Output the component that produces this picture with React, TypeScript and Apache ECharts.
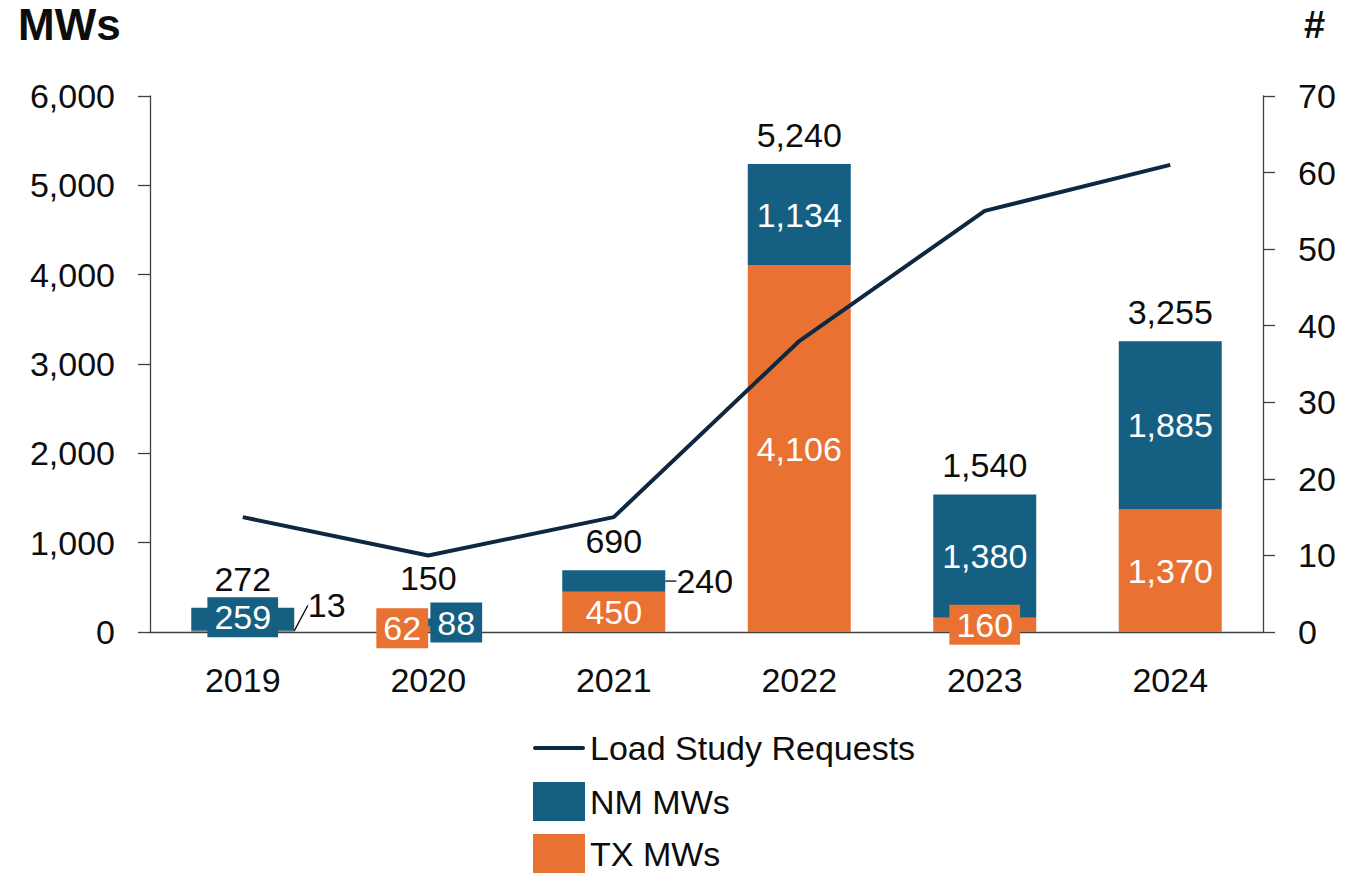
import React, { useEffect, useRef } from "react";
import * as echarts from "echarts";

const years = ["2019", "2020", "2021", "2022", "2023", "2024"];
const txMWs = [13, 62, 450, 4106, 160, 1370];
const nmMWs = [259, 88, 240, 1134, 1380, 1885];
const totalMWs = [272, 150, 690, 5240, 1540, 3255];
const loadStudyRequests = [15, 10, 15, 38, 55, 61];

const BLUE = "#156082";
const ORANGE = "#E97132";
const NAVY = "#0E2841";
const TEXT = "#0d0d0d";
const FONT = "'Liberation Sans', Arial, sans-serif";
const FS = 34;

const fmt = (v: number) => v.toLocaleString("en-US");

export default function App() {
  const ref = useRef<HTMLDivElement>(null);
  useEffect(() => {
    if (!ref.current) return;
    const chart = echarts.init(ref.current, null, { renderer: "svg" });

    const boxLabel = (bg: string) => ({
      show: true,
      position: "inside",
      color: "#ffffff",
      backgroundColor: bg,
      padding: [3, 7, 1, 7],
      lineHeight: 36,
    });
    const plainLine = {
      show: true,
      lineStyle: { color: TEXT, width: 1.3 },
    };

    const txData = txMWs.map((v, i) => {
      if (i === 0)
        return {
          value: v,
          label: { show: true, position: "inside", color: TEXT },
          labelLine: plainLine,
        };
      if (i === 1 || i === 4) return { value: v, label: boxLabel(ORANGE) };
      return { value: v };
    });
    const nmData = nmMWs.map((v, i) => {
      if (i === 0 || i === 1) return { value: v, label: boxLabel(BLUE) };
      if (i === 2)
        return {
          value: v,
          label: { show: true, position: "inside", color: TEXT },
          labelLine: plainLine,
        };
      return { value: v };
    });

    // label series indices: 3 = TX labels, 4 = NM labels, 2 = totals
    const moves: Record<string, { dx: number; dy: number }> = {
      "3-0": { dx: 84, dy: -26 },
      "3-1": { dx: -26, dy: -1 },
      "4-1": { dx: 28, dy: 0 },
      "4-2": { dx: 91, dy: 0 },
      "4-0": { dx: 0, dy: -2 },
      "2-1": { dx: 0, dy: -12 },
    };
    const layoutFn = (p: any) => moves[`${p.seriesIndex}-${p.dataIndex}`] || {};

    const legendText = { fontSize: FS, color: TEXT, fontFamily: FONT, lineHeight: 36 };
    const legendBase = {
      orient: "vertical",
      left: 528,
      itemWidth: 52,
      itemHeight: 39,
      textStyle: legendText,
    };

    const hiddenBar = {
      type: "bar",
      barWidth: 103,
      silent: true,
      itemStyle: { color: "rgba(0,0,0,0)" },
    };

    chart.setOption({
      animation: false,
      textStyle: { fontFamily: FONT, color: TEXT },
      grid: { left: 150, right: 97, top: 96, bottom: 243, containLabel: false },
      graphic: [
        {
          type: "text",
          left: 18,
          top: 2,
          style: { text: "MWs", fontSize: 44, fontWeight: "bold", fill: TEXT, fontFamily: FONT },
        },
        {
          type: "text",
          left: 1304,
          top: 6,
          style: { text: "#", fontSize: 38, fontWeight: "bold", fill: TEXT, fontFamily: FONT },
        },
      ],
      legend: [
        {
          ...legendBase,
          top: 725,
          data: [
            { name: "Load Study Requests", icon: "path://M2,0 L50,0 A2,2 0 0 1 50,4 L2,4 A2,2 0 0 1 2,0 Z" },
          ],
        },
        { ...legendBase, top: 777, data: [{ name: "NM MWs", icon: "rect" }] },
        { ...legendBase, top: 829, data: [{ name: "TX MWs", icon: "rect" }] },
      ],
      xAxis: {
        type: "category",
        data: years,
        axisTick: { show: false },
        axisLine: { lineStyle: { color: "#404040", width: 1.3 } },
        axisLabel: { fontSize: FS, color: TEXT, margin: 31 },
      },
      yAxis: [
        {
          type: "value",
          min: 0,
          max: 6000,
          interval: 1000,
          splitLine: { show: false },
          axisLine: { show: true, lineStyle: { color: "#404040", width: 1.3 } },
          axisTick: { show: true, length: 12, lineStyle: { color: "#404040", width: 1.3 } },
          axisLabel: { fontSize: FS, color: TEXT, margin: 35, formatter: (v: number) => fmt(v) },
        },
        {
          type: "value",
          min: 0,
          max: 70,
          interval: 10,
          splitLine: { show: false },
          axisLine: { show: true, lineStyle: { color: "#404040", width: 1.3 } },
          axisTick: { show: true, length: 12, lineStyle: { color: "#404040", width: 1.3 } },
          axisLabel: { fontSize: FS, color: TEXT, margin: 35 },
        },
      ],
      series: [
        {
          name: "TX MWs",
          type: "bar",
          stack: "mw",
          barWidth: 103,
          itemStyle: { color: ORANGE },
          data: txMWs,
          z: 2,
        },
        {
          name: "NM MWs",
          type: "bar",
          stack: "mw",
          barWidth: 103,
          itemStyle: { color: BLUE },
          data: nmMWs,
          z: 2,
        },
        {
          ...hiddenBar,
          name: "Total",
          barGap: "-100%",
          label: {
            show: true,
            position: "top",
            distance: 12,
            color: TEXT,
            fontSize: FS,
            formatter: (p: any) => fmt(p.value),
          },
          labelLayout: layoutFn,
          data: totalMWs,
          z: 6,
        },
        {
          ...hiddenBar,
          name: "TX label",
          stack: "lbl",
          label: {
            show: true,
            position: "inside",
            color: "#ffffff",
            fontSize: FS,
            formatter: (p: any) => fmt(p.value),
          },
          labelLayout: layoutFn,
          data: txData,
          z: 7,
        },
        {
          ...hiddenBar,
          name: "NM label",
          stack: "lbl",
          label: {
            show: true,
            position: "inside",
            color: "#ffffff",
            fontSize: FS,
            formatter: (p: any) => fmt(p.value),
          },
          labelLayout: layoutFn,
          data: nmData,
          z: 7,
        },
        {
          name: "Load Study Requests",
          type: "line",
          yAxisIndex: 1,
          symbol: "none",
          showSymbol: false,
          lineStyle: { color: NAVY, width: 4 },
          itemStyle: { color: NAVY },
          data: loadStudyRequests,
          z: 5,
        },
      ],
    });
    return () => chart.dispose();
  }, []);
  return (
    <div
      ref={ref}
      style={{ position: "absolute", left: 0, top: 0, width: 1360, height: 875 }}
    />
  );
}
